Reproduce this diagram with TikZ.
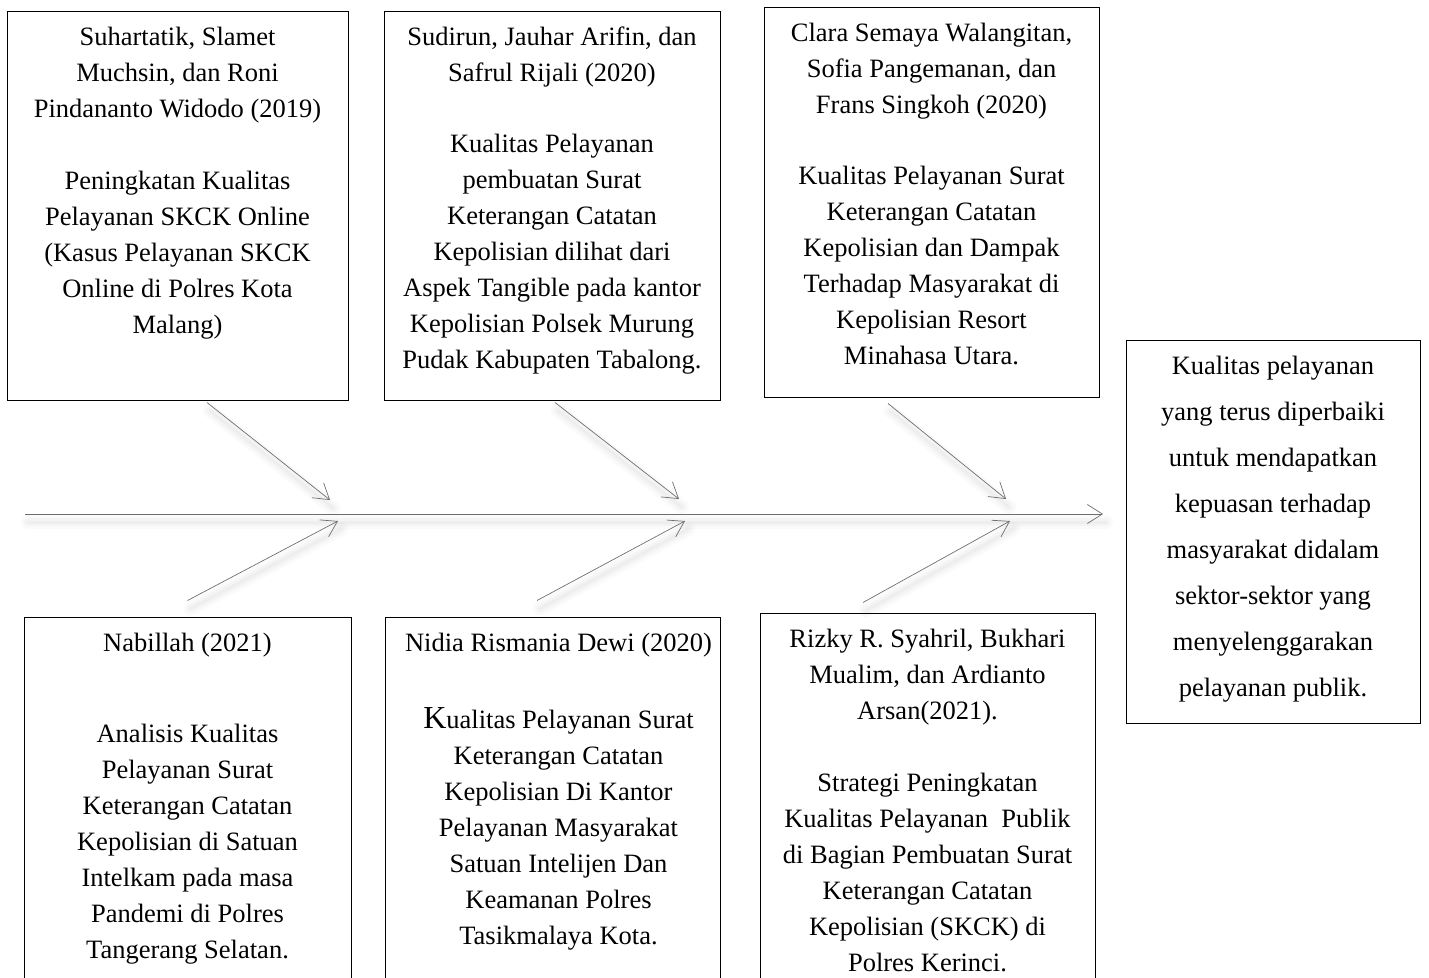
\documentclass[tikz,border=0pt]{standalone}
\usepackage{fontspec}
\setmainfont{Liberation Serif}
\usetikzlibrary{arrows.meta,positioning}
\definecolor{spine}{HTML}{6E6E6E}

\begin{document}
\begin{tikzpicture}[x=1pt,y=-1pt,node distance=16pt,
 box/.style={draw=black,line width=1pt,fill=white,inner sep=0pt},
 txt/.style={inner sep=0pt,align=center,font=\fontsize{26.5}{36}\selectfont},
 arr/.style={-{Straight Barb[length=15pt,width=19pt]},line width=0.7pt,draw=spine,
  preaction={draw=black,opacity=0.018,line width=14pt,line cap=round,-,transform canvas={xshift=3pt,yshift=-8pt}},
  preaction={draw=black,opacity=0.022,line width=8pt,line cap=round,-,transform canvas={xshift=3pt,yshift=-8pt}},
  preaction={draw=black,opacity=0.025,line width=3pt,line cap=round,-,transform canvas={xshift=3pt,yshift=-8pt}}}]
\clip (0,0) rectangle (1429,977);
% upper references
\node[box,minimum width=341pt,minimum height=389pt] (ref1) at (177.5,205.5) {};
\node[box,minimum width=336pt,minimum height=389pt] (ref2) at (552,205.5) {};
\node[box,minimum width=335pt,minimum height=390pt] (ref3) at (931.5,202) {};
\node[txt,below=of ref1.north] (ref1txt) {Suhartatik, Slamet\\Muchsin, dan Roni\\Pindananto Widodo (2019)\\[36pt]
 Peningkatan Kualitas\\Pelayanan SKCK Online\\(Kasus Pelayanan SKCK\\Online di Polres Kota\\Malang)};
\node[txt,below=of ref2.north] (ref2txt) {Sudirun, Jauhar Arifin, dan\\Safrul Rijali (2020)\\[35pt]
 Kualitas Pelayanan\\pembuatan Surat\\Keterangan Catatan\\Kepolisian dilihat dari\\Aspek Tangible pada kantor\\Kepolisian Polsek Murung\\Pudak Kabupaten Tabalong.};
\node[txt,below=of ref3.north] (ref3txt) {Clara Semaya Walangitan,\\Sofia Pangemanan, dan\\Frans Singkoh (2020)\\[35pt]
 Kualitas Pelayanan Surat\\Keterangan Catatan\\Kepolisian dan Dampak\\Terhadap Masyarakat di\\Kepolisian Resort\\Minahasa Utara.};
% lower references
\node[box,minimum width=327pt,minimum height=380pt] (ref4) at (187.5,807) {};
\node[box,minimum width=335pt,minimum height=380pt] (ref5) at (552.5,807) {};
\node[box,minimum width=335pt,minimum height=384pt] (ref6) at (927.5,805) {};
\node[txt,below=of ref4.north] (ref4txt) {Nabillah (2021)\\[55pt]
 Analisis Kualitas\\Pelayanan Surat\\Keterangan Catatan\\Kepolisian di Satuan\\Intelkam pada masa\\Pandemi di Polres\\Tangerang Selatan.};
\node[txt,below=of ref5.north,xshift=6pt] (ref5txt) {Nidia Rismania Dewi (2020)\\[41pt]
 {\fontsize{32}{36}\selectfont K}ualitas Pelayanan Surat\\Keterangan Catatan\\Kepolisian Di Kantor\\Pelayanan Masyarakat\\Satuan Intelijen Dan\\Keamanan Polres\\Tasikmalaya Kota.};
\node[txt,below=of ref6.north] (ref6txt) {Rizky R. Syahril, Bukhari\\Mualim, dan Ardianto\\Arsan(2021).\\[36pt]
 Strategi Peningkatan\\Kualitas Pelayanan\ \ Publik\\di Bagian Pembuatan Surat\\Keterangan Catatan\\Kepolisian (SKCK) di\\Polres Kerinci.};
% outcome
\node[box,minimum width=294pt,minimum height=383pt] (goal) at (1273,531.5) {};
\node[txt,font=\fontsize{26.5}{46}\selectfont,below=of goal.north] (goaltxt) {Kualitas pelayanan\\yang terus diperbaiki\\untuk mendapatkan\\kepuasan terhadap\\masyarakat didalam\\sektor-sektor yang\\menyelenggarakan\\pelayanan publik.};
% spine and joints
\coordinate (tail) at (25,514);
\coordinate (head) at (1103,514);
\coordinate (j1) at (330,500); \coordinate (j2) at (679,499); \coordinate (j3) at (1006,499);
\coordinate (k1) at (338,521); \coordinate (k2) at (685,521); \coordinate (k3) at (1010,521);
\draw[arr] (tail) -- (head);
\draw[arr] ([xshift=29.5pt,yshift=-2pt]ref1.south) -- (j1);
\draw[arr] ([xshift=3pt,yshift=-2pt]ref2.south) -- (j2);
\draw[arr] ([xshift=-43.5pt,yshift=-6pt]ref3.south) -- (j3);
\draw[arr] ([yshift=16pt]ref4.north) -- (k1);
\draw[arr] ([xshift=-15.5pt,yshift=16pt]ref5.north) -- (k2);
\draw[arr] ([xshift=-64.5pt,yshift=10pt]ref6.north) -- (k3);
\end{tikzpicture}
\end{document}
